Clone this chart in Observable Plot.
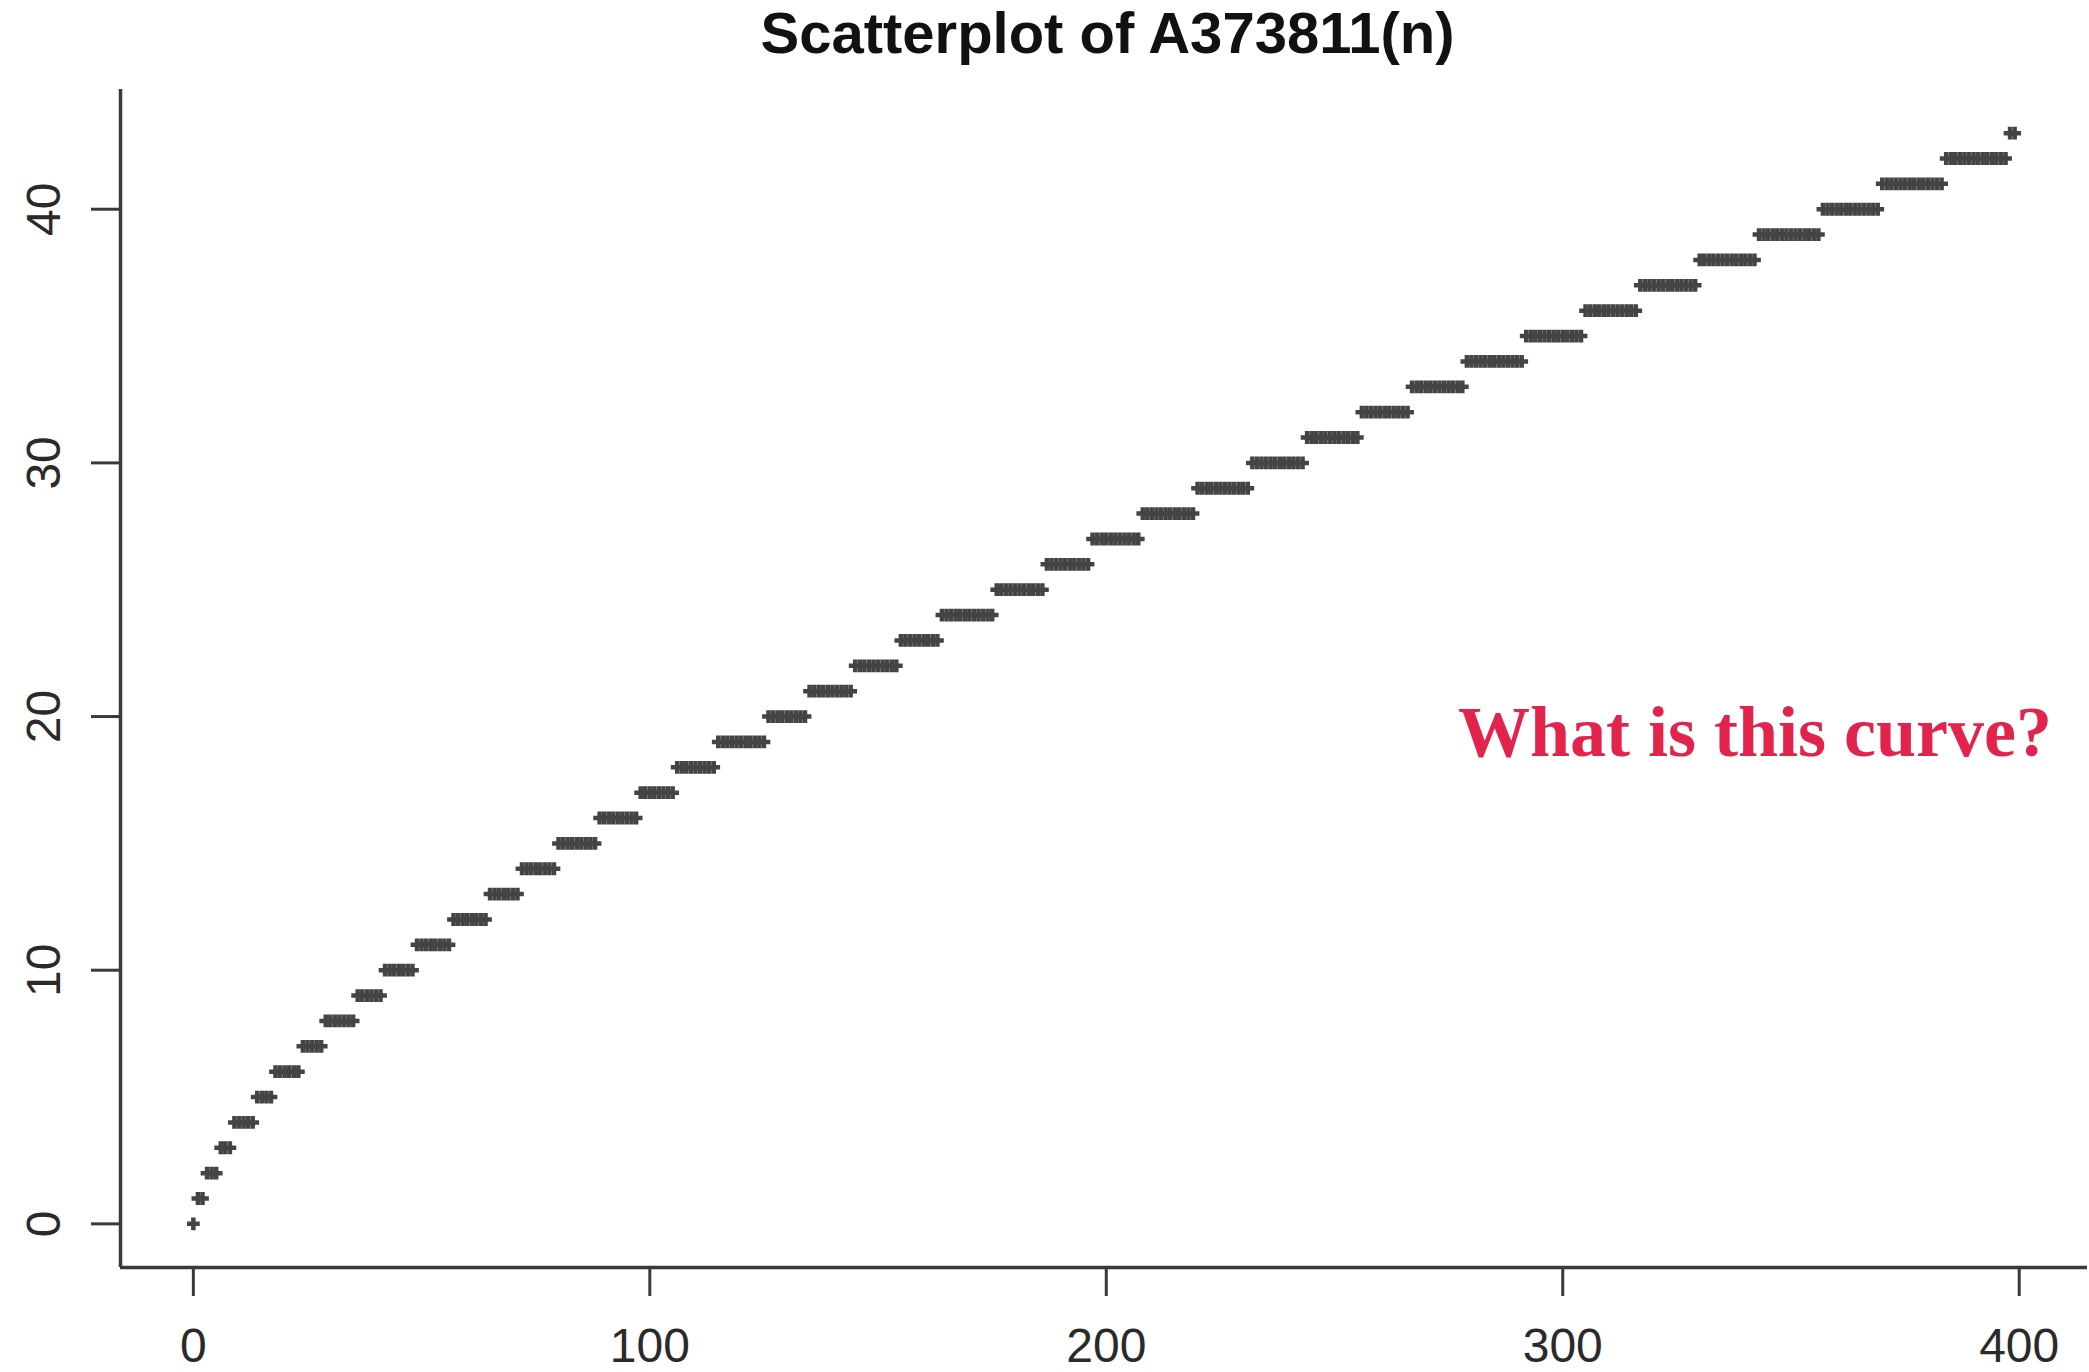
<!DOCTYPE html>
<html>
<head>
<meta charset="utf-8">
<script src="https://cdn.jsdelivr.net/npm/d3@7"></script>
<script src="https://cdn.jsdelivr.net/npm/@observablehq/plot@0.6"></script>
<style>
  html, body { margin: 0; padding: 0; background: #fff; }
  #wrap { position: relative; width: 2089px; height: 1372px; overflow: hidden; background: #fff; }
  #chart { position: absolute; left: 0; top: 0; }
  #title {
    position: absolute; left: 1107.5px; top: 4px; transform: translateX(-50%);
    font-family: "Liberation Sans", Arial, Helvetica, sans-serif; font-weight: bold;
    font-size: 58px; line-height: 58px; color: #111; white-space: nowrap;
  }
  #note {
    position: absolute; left: 1458px; top: 696px;
    font-family: "Liberation Serif", "Times New Roman", serif; font-weight: bold;
    font-size: 72px; line-height: 72px; color: #E2234B; white-space: nowrap;
  }
</style>
</head>
<body>
<div id="wrap">
  <div id="chart"></div>
  <div id="title">Scatterplot of A373811(n)</div>
  <div id="note">What is this curve?</div>
</div>
<script>
// Value k of A373811(n) first appears at n = levelStart[k]
const levelStart = [0, 1, 3, 6, 9, 14, 18, 24, 29, 36, 42, 49, 57, 65, 72, 80, 89, 98, 106, 115,
                    126, 135, 145, 155, 164, 176, 187, 197, 208, 220, 232, 244, 256, 267, 279, 292,
                    305, 317, 330, 343, 357, 370, 384, 398];
const lastN = 399;
const xTicks = [0, 100, 200, 300, 400];
const yTicks = [0, 10, 20, 30, 40];
const xDomain = [-15.96, 414.96];
const yDomain = [-1.72, 44.72];

// Build the point table from the runs
const points = [];
levelStart.forEach((start, k) => {
  const end = k + 1 < levelStart.length ? levelStart[k + 1] - 1 : lastN;
  for (let n = start; n <= end; n++) points.push({ n: n, value: k });
});

const ink = "#3a3a3a";
const chart = Plot.plot({
  width: 2089,
  height: 1372,
  marginLeft: 120,
  marginRight: 2,
  marginTop: 89,
  marginBottom: 105,
  x: { domain: xDomain, ticks: xTicks },
  y: { domain: yDomain, ticks: yTicks },
  style: { fontFamily: "'Liberation Sans', Arial, Helvetica, sans-serif", background: "transparent", color: "#2a2a2a" },
  marks: [
    Plot.ruleY([yDomain[0]], { stroke: ink, strokeWidth: 3.5 }),
    Plot.ruleX([xDomain[0]], { stroke: ink, strokeWidth: 3.5 }),
    Plot.axisX(xTicks, { tickSize: 29, tickPadding: 31, fontSize: 48, strokeWidth: 3, stroke: ink, label: null }),
    Plot.axisY(yTicks, { tickSize: 29, tickPadding: 32, tickRotate: -90, fontSize: 48, strokeWidth: 3, stroke: ink, label: null }),
    Plot.dot(points, { x: "n", y: "value", symbol: "plus", r: 4.2, stroke: "#444", strokeWidth: 4.5 })
  ]
});
document.getElementById("chart").appendChild(chart);
</script>
</body>
</html>
